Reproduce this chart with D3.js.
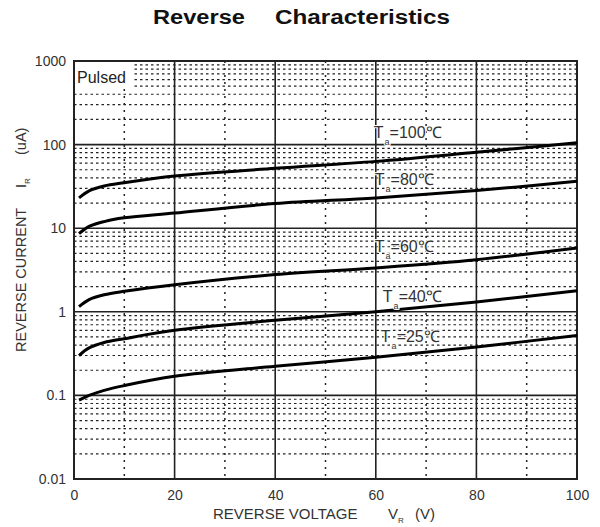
<!DOCTYPE html>
<html>
<head>
  <meta charset="utf-8">
  <style>
    body { margin: 0; background: #fff; }
    svg text { font-family: "Liberation Sans", Arial, sans-serif; }
    svg .minor { stroke: #222; stroke-width: 1.2px; stroke-dasharray: 2.5,3; }
    svg .vdot { stroke: #222; stroke-width: 1.5px; stroke-dasharray: 2,5; }
    svg .major { stroke: #222; stroke-width: 1.6px; }
    svg .curve { fill: none; stroke: #000; stroke-width: 3px; }
    svg .tick text { font-size: 14px; fill: #333; }
  </style>
</head>
<body>
<script src="https://cdn.jsdelivr.net/npm/d3@7"></script>
<script>
  // reverse voltage (V) where the curves were read
  var voltage = [1, 3, 6, 10, 20, 40, 60, 80, 100];

  // reverse current (uA) per ambient temperature
  var ta100 = [23, 28, 32, 35, 42, 52, 63, 81, 105];
  var ta80  = [8.6, 10.5, 12, 13.3, 15.2, 19.7, 23, 28.2, 36.4];
  var ta60  = [1.15, 1.4, 1.6, 1.76, 2.11, 2.79, 3.35, 4.2, 5.8];
  var ta40  = [0.30, 0.37, 0.43, 0.477, 0.60, 0.79, 1.0, 1.31, 1.79];
  var ta25  = [0.088, 0.10, 0.115, 0.131, 0.169, 0.223, 0.286, 0.38, 0.52];

  var seriesNames = ["100", "80", "60", "40", "25"];
  // where each T_a label sits, in data units [V, uA]
  var labelAt = [[59.6, 121], [59.8, 33.2], [59.8, 5.25], [61.4, 1.32], [61, 0.44]];

  var xTicks = [0, 20, 40, 60, 80, 100];
  var xMinor = [10, 30, 50, 70, 90];
  var yTicks = [0.01, 0.1, 1, 10, 100, 1000];
  var yTickLabels = ["0.01", "0.1", "1", "10", "100", "1000"];

  var W = 600, H = 527;
  var pad = { left: 74, right: 577, top: 61, bottom: 479 };

  var svg = d3.select("body").append("svg")
      .attr("width", W)
      .attr("height", H);

  var x = d3.scaleLinear().domain([0, 100]).range([pad.left, pad.right]);
  var y = d3.scaleLog().domain([0.01, 1000]).range([pad.bottom, pad.top]);

  // minor log grid (2..9 in each decade)
  var minorVals = [];
  yTicks.slice(0, -1).forEach(function (d) {
    for (var k = 2; k <= 9; k++) minorVals.push(d * k);
  });

  var grid = svg.append("g");
  grid.selectAll("line.minor").data(minorVals).enter().append("line")
      .attr("class", "minor")
      .attr("x1", pad.left).attr("x2", pad.right)
      .attr("y1", function (d) { return y(d); })
      .attr("y2", function (d) { return y(d); });

  grid.selectAll("line.vdot").data(xMinor).enter().append("line")
      .attr("class", "vdot")
      .attr("x1", function (d) { return x(d); })
      .attr("x2", function (d) { return x(d); })
      .attr("y1", pad.top).attr("y2", pad.bottom);

  // "Pulsed" sits on a clear patch
  svg.append("rect")
      .attr("x", pad.left + 1).attr("y", pad.top + 1)
      .attr("width", 58).attr("height", 27)
      .attr("fill", "#fff");

  grid = svg.append("g");
  grid.selectAll("line.hmaj").data(yTicks.slice(1, -1)).enter().append("line")
      .attr("class", "major")
      .attr("x1", pad.left).attr("x2", pad.right)
      .attr("y1", function (d) { return y(d); })
      .attr("y2", function (d) { return y(d); });

  grid.selectAll("line.vmaj").data(xTicks.slice(1, -1)).enter().append("line")
      .attr("class", "major")
      .attr("x1", function (d) { return x(d); })
      .attr("x2", function (d) { return x(d); })
      .attr("y1", pad.top).attr("y2", pad.bottom);

  svg.append("rect")
      .attr("x", pad.left).attr("y", pad.top)
      .attr("width", pad.right - pad.left).attr("height", pad.bottom - pad.top)
      .attr("fill", "none")
      .attr("stroke", "#222")
      .attr("stroke-width", 2);

  svg.append("text")
      .attr("x", pad.left + 3).attr("y", pad.top + 22)
      .text("Pulsed")
      .style("font-size", "16px")
      .style("fill", "#222");

  // axes (labels only, the frame is drawn above)
  var xAxis = d3.axisBottom(x).tickValues(xTicks).tickSize(0).tickPadding(11)
      .tickFormat(d3.format("d"));
  svg.append("g")
      .attr("transform", "translate(0," + pad.bottom + ")")
      .call(xAxis)
      .call(function (g) { g.select(".domain").remove(); });

  var yAxis = d3.axisLeft(y).tickValues(yTicks).tickSize(0).tickPadding(8)
      .tickFormat(function (d, i) { return yTickLabels[i]; });
  svg.append("g")
      .attr("transform", "translate(" + pad.left + ",0)")
      .call(yAxis)
      .call(function (g) { g.select(".domain").remove(); });

  // curves
  var line = d3.line()
      .x(function (d, i) { return x(voltage[i]); })
      .y(function (d) { return y(d); })
      .curve(d3.curveCatmullRom.alpha(0.5));

  var allSeries = [ta100, ta80, ta60, ta40, ta25];
  svg.selectAll("path.curve").data(allSeries).enter().append("path")
      .attr("class", "curve")
      .attr("d", line);

  // T_a labels
  allSeries.forEach(function (s, i) {
    var t = svg.append("text")
        .attr("x", x(labelAt[i][0]))
        .attr("y", y(labelAt[i][1]))
        .style("font-size", "16px")
        .style("fill", "#333")
        .style("stroke", "#fff")
        .style("stroke-width", "2px")
        .style("paint-order", "stroke");
    t.append("tspan").text("T");
    t.append("tspan").attr("dx", 1).attr("dy", 7).style("font-size", "9px").text("a");
    t.append("tspan").attr("dy", -7).text("=" + seriesNames[i] + "\u2103");
  });

  // titles
  svg.append("text")
      .attr("x", 153).attr("y", 24)
      .attr("textLength", 92).attr("lengthAdjust", "spacingAndGlyphs")
      .text("Reverse")
      .style("font-size", "20px")
      .style("font-weight", "bold")
      .style("fill", "#111");
  svg.append("text")
      .attr("x", 275).attr("y", 24)
      .attr("textLength", 175).attr("lengthAdjust", "spacingAndGlyphs")
      .text("Characteristics")
      .style("font-size", "20px")
      .style("font-weight", "bold")
      .style("fill", "#111");

  var xt = svg.append("text")
      .attr("y", 519)
      .style("font-size", "15px")
      .style("fill", "#333");
  xt.append("tspan").attr("x", 213).text("REVERSE VOLTAGE");
  xt.append("tspan").attr("x", 388).text("V");
  xt.append("tspan").attr("dy", 4).style("font-size", "8px").text("R");
  xt.append("tspan").attr("x", 415).attr("dy", -4).text("(V)");

  var yt = svg.append("text")
      .attr("transform", "translate(26,352) rotate(-90)")
      .style("font-size", "14.5px")
      .style("fill", "#333");
  yt.append("tspan").attr("x", 0).text("REVERSE CURRENT");
  yt.append("tspan").attr("x", 164).text("I");
  yt.append("tspan").attr("dy", 4).style("font-size", "8px").text("R");
  yt.append("tspan").attr("x", 197).attr("dy", -4).text("(uA)");
</script>
</body>
</html>
